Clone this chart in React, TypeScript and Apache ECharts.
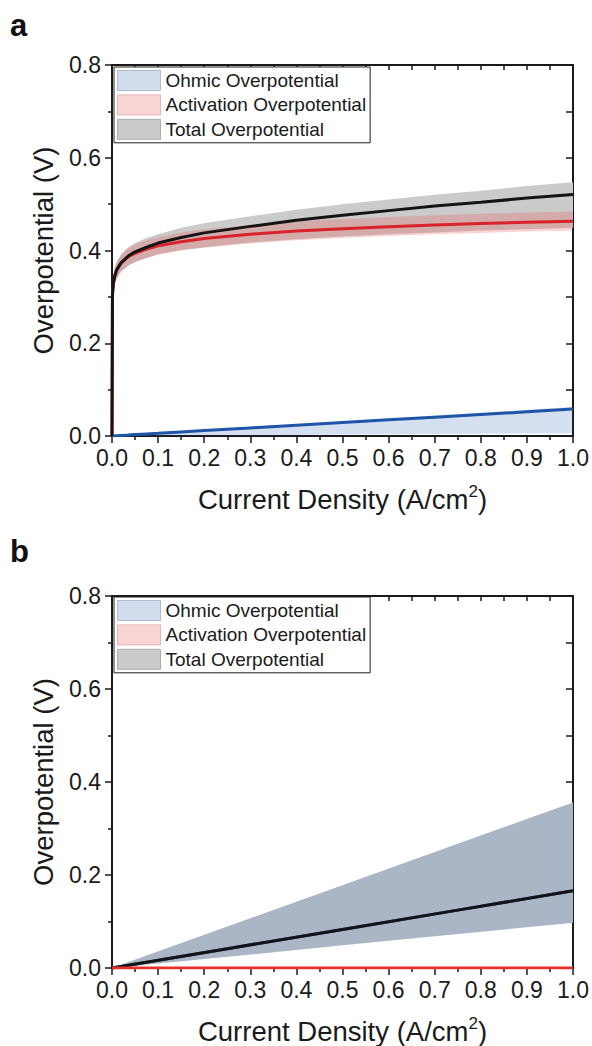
import React, { useEffect, useRef } from "react";
import * as echarts from "echarts";

const FONT = "'Liberation Sans', Arial, Helvetica, sans-serif";

// x positions (current density, A/cm2)
const currentA = [0, 0.001, 0.003, 0.006, 0.01, 0.02, 0.035, 0.05, 0.075, 0.1, 0.15, 0.2, 0.3, 0.4, 0.5, 0.6, 0.7, 0.8, 0.9, 1.0];

// panel a
const activationA = [0, 0.305, 0.33, 0.345, 0.357, 0.373, 0.386, 0.394, 0.403, 0.41, 0.419, 0.426, 0.435, 0.442, 0.447, 0.451, 0.455, 0.458, 0.461, 0.463];
const activationLoA = [0, 0.288, 0.312, 0.327, 0.339, 0.355, 0.367, 0.375, 0.384, 0.391, 0.4, 0.406, 0.415, 0.422, 0.427, 0.431, 0.435, 0.438, 0.441, 0.443];
const activationHiA = [0, 0.322, 0.348, 0.363, 0.375, 0.391, 0.405, 0.413, 0.422, 0.429, 0.439, 0.446, 0.455, 0.463, 0.468, 0.472, 0.476, 0.479, 0.482, 0.484];
const ohmicA = [0, 0.0001, 0.0002, 0.0003, 0.0006, 0.0012, 0.002, 0.003, 0.0044, 0.0058, 0.0087, 0.0116, 0.0174, 0.0232, 0.029, 0.0348, 0.0406, 0.0464, 0.0522, 0.058];
const ohmicLoA = [0, 0, 0, 0, 0.0001, 0.0001, 0.0002, 0.0003, 0.0005, 0.0006, 0.0009, 0.0012, 0.0018, 0.0024, 0.003, 0.0036, 0.0042, 0.0048, 0.0054, 0.006];
const ohmicHiA = [0, 0.0001, 0.0002, 0.0004, 0.0006, 0.0013, 0.0022, 0.0032, 0.0047, 0.0063, 0.0095, 0.0126, 0.0189, 0.0252, 0.0315, 0.0378, 0.0441, 0.0504, 0.0567, 0.063];
const totalA = [0, 0.305, 0.33, 0.345, 0.358, 0.374, 0.388, 0.397, 0.407, 0.416, 0.428, 0.438, 0.452, 0.465, 0.476, 0.486, 0.496, 0.504, 0.513, 0.521];
const totalLoA = [0, 0.288, 0.312, 0.327, 0.339, 0.355, 0.367, 0.375, 0.384, 0.392, 0.401, 0.407, 0.417, 0.424, 0.43, 0.435, 0.439, 0.443, 0.446, 0.449];
const totalHiA = [0, 0.322, 0.348, 0.363, 0.376, 0.392, 0.407, 0.416, 0.427, 0.435, 0.449, 0.459, 0.474, 0.488, 0.5, 0.51, 0.52, 0.529, 0.539, 0.547];

// panel b
const currentB = [0, 0.25, 0.5, 0.75, 1.0];
const activationB = [0, 0, 0, 0, 0];
const ohmicB = [0, 0.0415, 0.083, 0.1245, 0.166];
const ohmicLoB = [0, 0.024, 0.049, 0.073, 0.0975];
const ohmicHiB = [0, 0.089, 0.178, 0.267, 0.356];
const totalB = [0, 0.0415, 0.083, 0.1245, 0.166];
const totalLoB = [0, 0.024, 0.049, 0.073, 0.0975];
const totalHiB = [0, 0.089, 0.178, 0.267, 0.356];

const legendNames = ["Ohmic Overpotential", "Activation Overpotential", "Total Overpotential"];
const xTicks = [0, 0.1, 0.2, 0.3, 0.4, 0.5, 0.6, 0.7, 0.8, 0.9, 1.0];
const yTicks = [0, 0.2, 0.4, 0.6, 0.8];

const COL = {
  ohmLine: "#1f55a6",
  actLine: "#d8242a",
  totLine: "#141414",
  ohmBand: "rgba(40,100,180,0.2)",
  actBand: "rgba(240,70,70,0.24)",
  totBand: "#cbcbcb",
  axis: "#1a1a1a",
};

function band(name: string, xs: number[], lo: number[], hi: number[], color: string, gi: number, z: number) {
  return {
    type: "custom",
    name,
    xAxisIndex: gi * 2,
    yAxisIndex: gi * 2,
    z,
    silent: true,
    clip: true,
    data: xs.map((x, i) => [x, lo[i], hi[i]]),
    encode: { x: 0, y: [1, 2] },
    renderItem: (params: any, api: any) => {
      if (params.dataIndex !== 0) return null;
      const upper = xs.map((x, i) => api.coord([x, hi[i]]));
      const lower = xs.map((x, i) => api.coord([x, lo[i]])).reverse();
      return {
        type: "polygon",
        shape: { points: upper.concat(lower) },
        style: { fill: color },
      };
    },
  };
}

function line(name: string, xs: number[], ys: number[], color: string, gi: number, z: number) {
  return {
    type: "line",
    name,
    xAxisIndex: gi * 2,
    yAxisIndex: gi * 2,
    z,
    silent: true,
    symbol: "none",
    showSymbol: false,
    data: xs.map((x, i) => [x, ys[i]]),
    lineStyle: { color, width: 3 },
  };
}

export default function App() {
  const ref = useRef<HTMLDivElement>(null);
  useEffect(() => {
    document.body.style.margin = "0";
    if (!ref.current) return;
    const chart = echarts.init(ref.current, undefined, { renderer: "svg" });

    const grids = [
      { left: 112, top: 65, width: 461, height: 371 },
      { left: 112, top: 596, width: 461, height: 372 },
    ];

    const xAxes: any[] = [];
    const yAxes: any[] = [];
    grids.forEach((_, gi) => {
      xAxes.push({
        type: "value",
        gridIndex: gi,
        position: "bottom",
        min: xTicks[0],
        max: xTicks[xTicks.length - 1],
        interval: 0.1,
        name: "{t|Current Density (A/cm}{s|2}{t|)}",
        nameLocation: "middle",
        nameGap: 47,
        nameTextStyle: {
          rich: {
            t: { fontSize: 27.5, fontFamily: FONT, color: "#1a1a1a" },
            s: { fontSize: 17, fontFamily: FONT, color: "#1a1a1a", padding: [0, 0, 15, 0] },
          },
        },
        axisLine: { show: true, onZero: false, lineStyle: { color: COL.axis, width: 2 } },
        axisTick: { show: true, inside: false, length: 7, lineStyle: { color: COL.axis, width: 1.5 } },
        minorTick: { show: true, splitNumber: 2, length: 4, lineStyle: { color: COL.axis, width: 1.5 } },
        axisLabel: {
          show: true,
          margin: 10,
          fontSize: 23,
          fontFamily: FONT,
          color: "#1a1a1a",
          formatter: (v: number) => v.toFixed(1),
        },
        splitLine: { show: false },
      });
      xAxes.push({
        type: "value",
        gridIndex: gi,
        position: "top",
        min: 0,
        max: 1,
        interval: 0.05,
        axisLine: { show: true, onZero: false, lineStyle: { color: COL.axis, width: 2 } },
        axisTick: { show: true, inside: true, length: 5, lineStyle: { color: COL.axis, width: 1.5 } },
        axisLabel: { show: false },
        splitLine: { show: false },
      });
      yAxes.push({
        type: "value",
        gridIndex: gi,
        position: "left",
        min: yTicks[0],
        max: yTicks[yTicks.length - 1],
        interval: 0.2,
        name: "Overpotential (V)",
        nameLocation: "middle",
        nameGap: 55,
        nameRotate: 90,
        nameTextStyle: { fontSize: 27.5, fontFamily: FONT, color: "#1a1a1a" },
        axisLine: { show: true, onZero: false, lineStyle: { color: COL.axis, width: 2 } },
        axisTick: { show: true, inside: false, length: 7, lineStyle: { color: COL.axis, width: 1.5 } },
        minorTick: { show: true, splitNumber: 2, length: 4, lineStyle: { color: COL.axis, width: 1.5 } },
        axisLabel: {
          show: true,
          margin: 11,
          fontSize: 23,
          fontFamily: FONT,
          color: "#1a1a1a",
          formatter: (v: number) => v.toFixed(1),
        },
        splitLine: { show: false },
      });
      yAxes.push({
        type: "value",
        gridIndex: gi,
        position: "right",
        min: 0,
        max: 0.8,
        interval: 0.1,
        axisLine: { show: true, onZero: false, lineStyle: { color: COL.axis, width: 2 } },
        axisTick: { show: true, inside: true, length: 7, lineStyle: { color: COL.axis, width: 1.5 } },
        axisLabel: { show: false },
        splitLine: { show: false },
      });
    });

    const series: any[] = [
      band(legendNames[2], currentA, totalLoA, totalHiA, COL.totBand, 0, 1),
      band(legendNames[1], currentA, activationLoA, activationHiA, COL.actBand, 0, 2),
      band(legendNames[0], currentA, ohmicLoA, ohmicHiA, COL.ohmBand, 0, 3),
      line("Ohmic (a)", currentA, ohmicA, COL.ohmLine, 0, 4),
      line("Activation (a)", currentA, activationA, COL.actLine, 0, 5),
      line("Total (a)", currentA, totalA, COL.totLine, 0, 6),
      band(legendNames[2] + " ", currentB, totalLoB, totalHiB, COL.totBand, 1, 1),
      band(legendNames[0] + " ", currentB, ohmicLoB, ohmicHiB, COL.ohmBand, 1, 3),
      line("Ohmic (b)", currentB, ohmicB, COL.ohmLine, 1, 4),
      line("Total (b)", currentB, totalB, COL.totLine, 1, 5),
      line("Activation (b)", currentB, activationB, "#e8302a", 1, 6),
    ];

    const legendItems = [
      { name: legendNames[0], icon: "rect", itemStyle: { color: "#d1dcec", borderColor: "#aebbd0", borderWidth: 1 } },
      { name: legendNames[1], icon: "rect", itemStyle: { color: "#fbd5d5", borderColor: "#e6b4b4", borderWidth: 1 } },
      { name: legendNames[2], icon: "rect", itemStyle: { color: "#cbcbcb", borderColor: "#adadad", borderWidth: 1 } },
    ];

    const legends = [67, 597].map((top) => ({
      orient: "vertical",
      left: 114,
      top,
      itemWidth: 43,
      itemHeight: 20,
      itemGap: 3.4,
      padding: [3, 4, 3, 3],
      backgroundColor: "#fff",
      borderColor: "#222",
      borderWidth: 1,
      borderRadius: 0,
      selectedMode: false,
      textStyle: { fontSize: 19, color: "#1a1a1a", fontFamily: FONT },
      data: legendItems,
      z: 20,
    }));

    chart.setOption({
      animation: false,
      backgroundColor: "#fff",
      grid: grids,
      xAxis: xAxes,
      yAxis: yAxes,
      legend: legends,
      series,
      graphic: [
        { type: "text", left: 10, top: 10, style: { text: "a", fontSize: 31, fontWeight: "bold", fontFamily: FONT, fill: "#111" } },
        { type: "text", left: 10, top: 536, style: { text: "b", fontSize: 31, fontWeight: "bold", fontFamily: FONT, fill: "#111" } },
      ],
    });

    return () => chart.dispose();
  }, []);

  return <div ref={ref} style={{ width: 592, height: 1046 }} />;
}
